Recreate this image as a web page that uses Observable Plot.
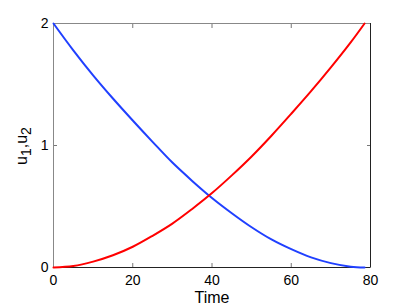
<!DOCTYPE html>
<html><head><meta charset="utf-8">
<script src="https://cdn.jsdelivr.net/npm/d3@7"></script>
<script src="https://cdn.jsdelivr.net/npm/@observablehq/plot@0.6"></script>
<style>html,body{margin:0;padding:0;background:#fff}</style>
</head><body><div id="chart"></div>
<script>
const timeBlue = [0, 5, 10, 15, 20, 25, 30, 35, 40, 45, 50, 55, 60, 65, 70, 75, 78.5];
const u1 =       [2.00, 1.78, 1.575, 1.385, 1.205, 1.03, 0.86, 0.71, 0.57, 0.445, 0.33, 0.23, 0.15, 0.083, 0.036, 0.007, 0];
const timeRed =  [0, 5, 10, 15, 20, 25, 30, 35, 40, 45, 50, 55, 60, 65, 70, 75, 78.5];
const u2 =       [0, 0.012, 0.048, 0.10, 0.17, 0.26, 0.36, 0.48, 0.61, 0.755, 0.91, 1.08, 1.26, 1.445, 1.64, 1.845, 2.00];
const xTicks = [0, 20, 40, 60, 80];
const yTicks = [0, 1, 2];

const blue = timeBlue.map((t, i) => ({t, u: u1[i]}));
const red = timeRed.map((t, i) => ({t, u: u2[i]}));

const font = "'Liberation Sans', Arial, Helvetica, sans-serif";
const chart = Plot.plot({
  width: 409,
  height: 307,
  marginLeft: 53,
  marginRight: 39,
  marginTop: 23,
  marginBottom: 40,
  style: {fontFamily: font, background: "#fff", color: "#000"},
  x: {domain: [0, 80]},
  y: {domain: [0, 2]},
  marks: [
    Plot.axisX(xTicks, {anchor: "bottom", tickSize: 0, tickPadding: 8, fontSize: 14, label: null, tickFormat: d => String(d)}),
    Plot.axisX(xTicks, {anchor: "bottom", tickSize: 4, dy: -4, tickFormat: () => "", label: null, stroke: "#777"}),
    Plot.axisX(xTicks, {anchor: "top", tickSize: 4, dy: 4, tickFormat: () => "", label: null, stroke: "#777"}),
    Plot.axisY(yTicks, {anchor: "left", tickSize: 0, tickPadding: 5, fontSize: 14, label: null, tickFormat: d => String(d)}),
    Plot.axisY(yTicks, {anchor: "left", tickSize: 4, dx: 4, tickFormat: () => "", label: null, stroke: "#777"}),
    Plot.axisY(yTicks, {anchor: "right", tickSize: 4, dx: -4, tickFormat: () => "", label: null, stroke: "#777"}),
    Plot.ruleX([0], {stroke: "#888", strokeWidth: 1}),
    Plot.ruleY([2], {stroke: "#888", strokeWidth: 1}),
    Plot.ruleX([80], {stroke: "#222", strokeWidth: 1}),
    Plot.ruleY([0], {stroke: "#222", strokeWidth: 1}),
    Plot.line(blue, {x: "t", y: "u", stroke: "#2040ff", strokeWidth: 2, curve: "catmull-rom"}),
    Plot.line(red, {x: "t", y: "u", stroke: "#ff0000", strokeWidth: 2, curve: "catmull-rom"}),
    Plot.text(["Time"], {frameAnchor: "bottom", dy: 35, lineAnchor: "bottom", fontSize: 16, fill: "#000"})
  ]
});
document.getElementById("chart").appendChild(chart);

const svg = d3.select(chart);
const yl = svg.append("text")
  .attr("transform", "translate(27,146) rotate(-90)")
  .attr("text-anchor", "middle")
  .attr("font-size", 16)
  .attr("font-family", font)
  .attr("fill", "#000");
yl.append("tspan").text("u");
yl.append("tspan").attr("dy", 4).attr("font-size", 14).text("1");
yl.append("tspan").attr("dy", -4).text(",u");
yl.append("tspan").attr("dy", 4).attr("font-size", 14).text("2");
</script>
</body></html>
